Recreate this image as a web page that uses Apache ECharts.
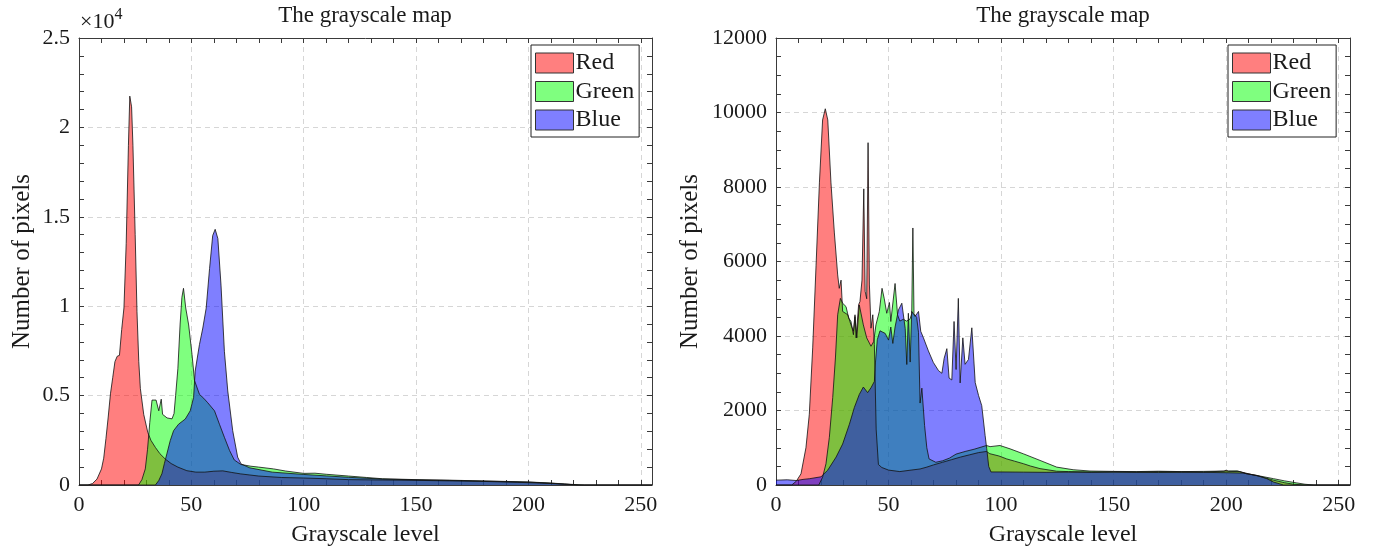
<!DOCTYPE html>
<html>
<head>
<meta charset="utf-8">
<script src="https://cdn.jsdelivr.net/npm/echarts@6/dist/echarts.min.js"></script>
<style>
  html, body { margin: 0; padding: 0; background: #fff; }
  #chart { width: 1375px; height: 552px; }
</style>
</head>
<body>
<div id="chart"></div>
<script>
// Histogram of pixel counts per grayscale level, two images, one panel each.
// Each channel is a list of [level, count] points.

const channelNames = ['Red', 'Green', 'Blue'];
const channelColors = ['rgba(255,0,0,0.5)', 'rgba(0,255,0,0.5)', 'rgba(0,0,255,0.5)'];

const leftRed = [
  [0,0],[4,0],[6,80],[8,330],[10,900],[11,1500],[12,2600],[13,3800],[14,5100],[15,6000],
  [16,6900],[17,7200],[18,7250],[19,8700],[20,9900],[21,13500],[22,19000],[22.6,21750],
  [23.4,21150],[24,19000],[24.5,16500],[25,14000],[25.8,9700],[26.6,6900],[27.3,5400],
  [28.8,3950],[30.6,2950],[32,2500],[34,2100],[36,1750],[38.4,1450],[41,1200],[44,1000],
  [48,800],[52,720],[56,720],[60,770],[64,790],[68,700],[72,620],[76,560],[80,500],
  [90,420],[100,390],[110,350],[120,300],[135,280],[150,260],[165,230],[180,200],
  [195,150],[205,110],[212,70],[218,30],[223,0],[255,0]
];
const leftGreen = [
  [0,0],[26.5,0],[28,300],[29.5,900],[30.5,2000],[31.5,3500],[32.5,4750],[34.3,4750],
  [35.5,4150],[36.6,4800],[37.2,3950],[38,4050],[39.2,3750],[40,3700],[41.4,3700],
  [42.3,4000],[43,5000],[44,6500],[45,9000],[45.8,10500],[46.5,11000],[47.5,9900],
  [48.8,8950],[50.3,7300],[51.4,5850],[53.6,5070],[55.5,4850],[57.3,4600],[60.3,4150],
  [62.5,3400],[64.7,2670],[67,1930],[69.1,1400],[72,1150],[76.5,1050],[80,1000],
  [86.6,900],[92,780],[100,650],[105,660],[110,600],[120,500],[128,420],[135,350],
  [150,300],[165,270],[179,230],[190,200],[200,170],[210,110],[216,60],[220,30],[225,0],[255,0]
];
const leftBlue = [
  [0,0],[34,0],[35.5,250],[36.9,630],[38,1200],[39.1,1740],[40.6,2480],[42.1,3040],
  [44.3,3400],[47.3,3690],[49.5,4150],[51,4900],[51.7,6370],[53.6,7850],[55.1,8780],
  [56.6,9890],[58.1,12100],[59.5,13950],[60.6,14300],[61.8,13780],[63.2,11180],
  [64.7,7480],[66.2,5260],[68.4,3040],[70.6,1560],[72.1,1180],[76,960],[86,720],
  [100,590],[110,510],[120,430],[135,330],[150,290],[175,230],[200,160],[210,100],
  [216,50],[222,0],[255,0]
];

const rightRed = [
  [0,0],[7,0],[9,100],[11.1,300],[13.3,1000],[14.8,1900],[16.3,3680],[17.8,5900],
  [19.3,8130],[20.7,9800],[21.9,10100],[23,9800],[24.4,8130],[25.9,6790],[27.4,5640],
  [28.1,5280],[28.9,5500],[29.6,4660],[31.9,4570],[33.3,4300],[34.4,4130],[35.1,4570],
  [35.6,3950],[36.7,4840],[37.3,4925],[38.2,5500],[39,7950],[39.6,5200],[40.3,5000],
  [40.9,9190],[41.5,5370],[42.2,4210],[43,4570],[43.7,3770],[44.5,1500],[45.5,550],
  [47,470],[50,400],[55,360],[60,400],[64,430],[67,480],[70,540],[74,610],[78,680],
  [82,750],[86,810],[90,870],[93.5,900],[95,840],[99,780],[102.5,700],[106,640],
  [110,570],[113,510],[117.3,440],[124.7,370],[130,360],[140,350],[150,355],[160,350],
  [170,360],[180,355],[190,350],[199,370],[200,400],[201,365],[206,360],[210,300],
  [215,230],[221,130],[226,60],[230,20],[235,0],[255,0]
];
const rightGreen = [
  [0,0],[19,0],[20.7,210],[22.2,570],[23.7,1280],[25.2,2350],[26.4,3410],[27.4,4570],
  [28.6,5010],[29.6,4880],[31.1,4790],[32.3,4480],[33.3,4390],[34.4,4035],[35.1,4520],
  [35.9,3950],[37,4835],[38.8,4300],[40.3,3950],[42.2,3725],[43.4,3850],[44.4,4300],
  [45.9,4660],[47.1,5280],[48.1,5000],[49.2,4610],[50.4,4900],[51,4390],[52.9,5410],
  [54,4570],[55,4400],[56.6,4450],[58,4400],[59.5,4450],[60.3,4600],[60.8,6900],
  [61.3,4600],[62.5,4500],[63.3,4100],[64,2200],[64.8,2600],[66,1600],[67,1000],
  [68,700],[71,610],[74,650],[77,720],[80,830],[84,900],[88,960],[93.5,1060],
  [95.1,1030],[99.5,1060],[104,970],[110,835],[117.3,660],[124.7,480],[132,410],
  [139.5,375],[150,365],[160,360],[170,370],[180,360],[190,365],[199,375],[205,380],
  [209,300],[215,240],[221,170],[226,110],[231.4,55],[235,20],[239,0],[255,0]
];
const rightBlue = [
  [0,130],[5,140],[9,120],[12,150],[15,170],[20,220],[23,400],[26.7,750],[29.6,1100],
  [32.6,1630],[34.8,2080],[37,2430],[38.8,2630],[40.7,2480],[42.2,2610],[43.7,2780],
  [44.2,3300],[45,3900],[46.2,4140],[48.5,4070],[50,3890],[51,4240],[51.9,3800],
  [52.9,4240],[54.4,4700],[55.9,4880],[56.6,4925],[57.4,4200],[58.1,3235],[58.8,4610],
  [59.6,3300],[60.3,4660],[61.8,4525],[63.3,4660],[64.3,4125],[65.5,3950],[67.7,3600],
  [69.9,3290],[72.2,3070],[73.7,3000],[74.7,3400],[75.9,3660],[76.9,2870],[78.1,2820],
  [79.1,4390],[80,3100],[81,5010],[81.8,2740],[83,3950],[84,3240],[85.5,3370],
  [87,4220],[88.5,2750],[90,2400],[91.4,2130],[92.9,1330],[93.6,980],[94.5,500],
  [95.5,350],[100,350],[110,345],[120,340],[130,345],[140,340],[150,345],[160,340],
  [170,335],[180,340],[190,340],[200,330],[207.7,320],[213.6,258],[218,170],[221,80],
  [225.5,0],[255,0]
];

const xTickLabels = [0, 50, 100, 150, 200, 250];
const leftYTickLabels = [0, 5000, 10000, 15000, 20000, 25000];
const rightYTickLabels = [0, 2000, 4000, 6000, 8000, 10000, 12000];

const panelTitle = 'The grayscale map';
const xName = 'Grayscale level';
const yName = 'Number of pixels';

const FONT = 'Liberation Serif';
const TXT = '#1a1a1a';
const FRAME = '#3a3a3a';
const GRIDC = '#d6d6d6';
const CLEAR = 'rgba(0,0,0,0)';

// split line colours cycle per tick: only every n-th tick shows a dashed line
function splitColors(n) {
  const c = [GRIDC];
  for (let i = 1; i < n; i++) c.push(CLEAR);
  return c;
}

function xAxes(grid) {
  const common = {
    type: 'value', gridIndex: grid, min: 0, max: 255, interval: 10,
    axisLine: { show: true, onZero: false, lineStyle: { color: FRAME, width: 1 } },
    axisTick: { show: true, inside: true, length: 5, lineStyle: { color: FRAME, width: 1 } },
    minorTick: { show: false }
  };
  return [
    Object.assign({}, common, {
      position: 'bottom',
      name: xName, nameLocation: 'middle', nameGap: 38,
      nameTextStyle: { fontFamily: FONT, fontSize: 24, color: TXT },
      axisLabel: {
        show: true, margin: 9, fontFamily: FONT, fontSize: 22, color: TXT,
        formatter: v => (xTickLabels.indexOf(v) >= 0 ? String(v) : '')
      },
      splitLine: { show: true, lineStyle: { type: [5, 4], color: splitColors(5), width: 1 } }
    }),
    Object.assign({}, common, {
      position: 'top', axisLabel: { show: false }, splitLine: { show: false }
    })
  ];
}

function yAxes(grid, max, step, major, labels, fmt, gap) {
  const common = {
    type: 'value', gridIndex: grid, min: 0, max: max, interval: step,
    axisLine: { show: true, onZero: false, lineStyle: { color: FRAME, width: 1 } },
    axisTick: { show: true, inside: true, length: 5, lineStyle: { color: FRAME, width: 1 } },
    minorTick: { show: false }
  };
  return [
    Object.assign({}, common, {
      position: 'left',
      name: yName, nameLocation: 'middle', nameGap: gap, nameRotate: 90,
      nameTextStyle: { fontFamily: FONT, fontSize: 25, color: TXT },
      axisLabel: {
        show: true, margin: 9, fontFamily: FONT, fontSize: 22, color: TXT,
        formatter: v => (labels.indexOf(v) >= 0 ? fmt(v) : '')
      },
      splitLine: { show: true, lineStyle: { type: [5, 4], color: splitColors(major), width: 1 } }
    }),
    Object.assign({}, common, {
      position: 'right', axisLabel: { show: false }, splitLine: { show: false }
    })
  ];
}

function areaSeries(name, data, color, xi, yi) {
  return {
    name: name, type: 'line', xAxisIndex: xi, yAxisIndex: yi, data: data,
    symbol: 'none', showSymbol: false, smooth: false,
    lineStyle: { color: '#111', width: 0.8 },
    itemStyle: { color: color },
    areaStyle: { color: color, opacity: 1 },
    emphasis: { disabled: true },
    silent: true
  };
}

function legendFor(leftPx) {
  return {
    orient: 'vertical', left: leftPx, top: 45,
    padding: [6, 5, 5, 4], itemGap: 4.5, itemWidth: 38, itemHeight: 20,
    backgroundColor: '#fff', borderColor: '#222', borderWidth: 1, borderRadius: 0,
    icon: 'rect', selectedMode: false,
    textStyle: { fontFamily: FONT, fontSize: 24, lineHeight: 20, color: TXT, padding: [0, 0, 0, -3] },
    data: channelNames.map((n, i) => ({
      name: n, icon: 'rect',
      itemStyle: { color: channelColors[i], borderColor: '#333', borderWidth: 1 }
    }))
  };
}

const chart = echarts.init(document.getElementById('chart'), null, { renderer: 'canvas' });

chart.setOption({
  animation: false,
  backgroundColor: '#fff',
  grid: [
    { left: 79, top: 38, width: 573, height: 450, containLabel: false },
    { left: 776, top: 38, width: 574, height: 450, containLabel: false }
  ],
  xAxis: xAxes(0).concat(xAxes(1)),
  yAxis: yAxes(0, 25000, 1000, 5, leftYTickLabels, v => String(v / 10000), 44)
    .concat(yAxes(1, 12000, 500, 4, rightYTickLabels, v => String(v), 73)),
  legend: [legendFor(531), legendFor(1228)],
  graphic: [
    { type: 'text', x: 365, y: 16, style: { text: panelTitle, font: '23px "' + FONT + '"', fill: TXT, align: 'center', verticalAlign: 'middle' } },
    { type: 'text', x: 1063, y: 16, style: { text: panelTitle, font: '23px "' + FONT + '"', fill: TXT, align: 'center', verticalAlign: 'middle' } },
    {
      type: 'text', x: 80, y: 7,
      style: {
        text: '{a|×10}{b|4}',
        rich: {
          a: { fontFamily: FONT, fontSize: 22, fill: TXT, verticalAlign: 'bottom', lineHeight: 26 },
          b: { fontFamily: FONT, fontSize: 16, fill: TXT, verticalAlign: 'top', lineHeight: 26 }
        }
      }
    }
  ],
  series: [
    areaSeries('Red', leftRed, channelColors[0], 0, 0),
    areaSeries('Green', leftGreen, channelColors[1], 0, 0),
    areaSeries('Blue', leftBlue, channelColors[2], 0, 0),
    areaSeries('Red', rightRed, channelColors[0], 2, 2),
    areaSeries('Green', rightGreen, channelColors[1], 2, 2),
    areaSeries('Blue', rightBlue, channelColors[2], 2, 2)
  ]
});
</script>
</body>
</html>
